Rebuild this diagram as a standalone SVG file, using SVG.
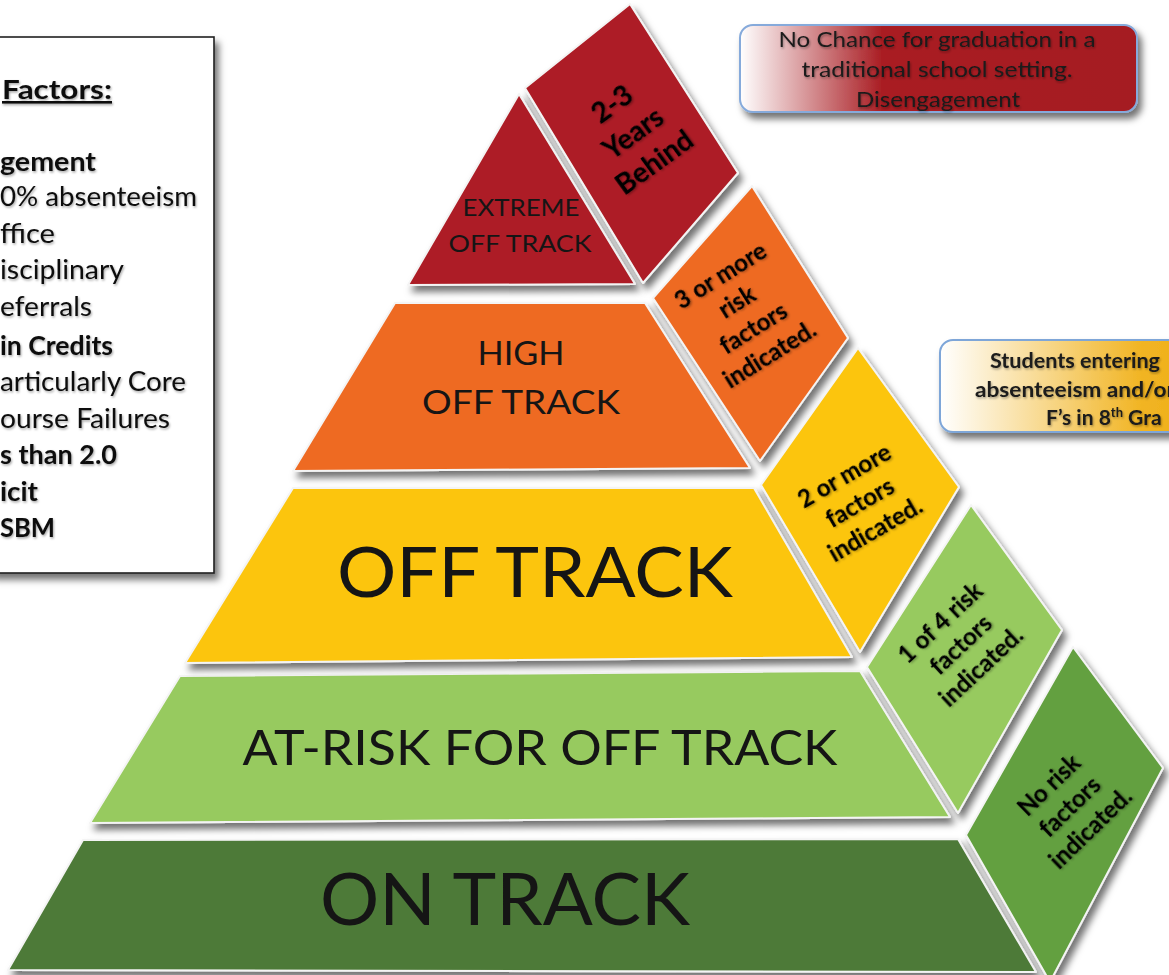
<svg xmlns="http://www.w3.org/2000/svg" width="1169" height="975" viewBox="0 0 1169 975">
<defs>
  <filter id="sh" x="-20%" y="-20%" width="140%" height="140%">
    <feDropShadow dx="4" dy="6" stdDeviation="3.5" flood-color="#000" flood-opacity="0.55"/>
  </filter>
  <filter id="tsh" x="-10%" y="-10%" width="120%" height="120%">
    <feDropShadow dx="1" dy="1.5" stdDeviation="1" flood-color="#000" flood-opacity="0.35"/>
  </filter>
  <linearGradient id="gRed" x1="0" y1="0" x2="1" y2="0">
    <stop offset="0" stop-color="#ffffff"/>
    <stop offset="0.36" stop-color="#a91c22"/>
    <stop offset="1" stop-color="#a51b21"/>
  </linearGradient>
  <linearGradient id="gGold" x1="0" y1="0" x2="1" y2="0">
    <stop offset="0" stop-color="#ffffff"/>
    <stop offset="0.75" stop-color="#f1b422"/>
    <stop offset="1" stop-color="#eeae18"/>
  </linearGradient>
  <style>
    .band { stroke: #f4f4f4; stroke-width: 2; stroke-linejoin: round; filter: url(#sh); }
    .lbl { font-family: Lato, "Open Sans", "Liberation Sans", sans-serif; fill: #151515; text-anchor: middle; }
    .tile { font-family: Lato, "Open Sans", "Liberation Sans", sans-serif; font-weight: bold; fill: #000; text-anchor: middle; filter: url(#tsh); }
    .leg { font-family: Lato, "Open Sans", "Liberation Sans", sans-serif; font-size: 26px; fill: #111; filter: url(#tsh); }
    .b { font-weight: bold; }
    .call { font-family: Lato, "Open Sans", "Liberation Sans", sans-serif; fill: #1a1a1a; filter: url(#tsh); }
    .mid { text-anchor: middle; }
    .red { fill: #ad1e25; }
    .org { fill: #ee6b23; }
    .yel { fill: #fcc510; }
    .lgr { fill: #97ca5e; }
    .dgr { fill: #4e7a38; }
    .mgr { fill: #63a03f; }
  </style>
</defs>
<rect width="1169" height="975" fill="#ffffff"/>

<g id="legend">
  <rect x="-10" y="37" width="224" height="536" fill="#ffffff" stroke="#1e1e1e" stroke-width="1.6" filter="url(#sh)"/>
  <text class="leg b" x="2" y="99" textLength="110" lengthAdjust="spacingAndGlyphs" text-decoration="underline">Factors:</text>
  <text class="leg b" x="0" y="171" textLength="96" lengthAdjust="spacingAndGlyphs">gement</text>
  <text class="leg" x="0" y="206" textLength="197" lengthAdjust="spacingAndGlyphs">0% absenteeism</text>
  <text class="leg" x="0" y="243" textLength="55" lengthAdjust="spacingAndGlyphs">ffice</text>
  <text class="leg" x="0" y="279" textLength="124" lengthAdjust="spacingAndGlyphs">isciplinary</text>
  <text class="leg" x="0" y="316" textLength="92" lengthAdjust="spacingAndGlyphs">eferrals</text>
  <text class="leg b" x="0" y="355" textLength="113" lengthAdjust="spacingAndGlyphs">in Credits</text>
  <text class="leg" x="0" y="391" textLength="186" lengthAdjust="spacingAndGlyphs">articularly Core</text>
  <text class="leg" x="0" y="428" textLength="170" lengthAdjust="spacingAndGlyphs">ourse Failures</text>
  <text class="leg b" x="0" y="464" textLength="117" lengthAdjust="spacingAndGlyphs">s than 2.0</text>
  <text class="leg b" x="0" y="501" textLength="38" lengthAdjust="spacingAndGlyphs">icit</text>
  <text class="leg b" x="0" y="537" textLength="55" lengthAdjust="spacingAndGlyphs">SBM</text>
</g>

<g id="callout-no-chance">
  <rect x="740" y="25" width="397" height="87" rx="13" fill="url(#gRed)" stroke="#86aadb" stroke-width="2" filter="url(#sh)"/>
  <text class="call mid" font-size="21" x="937" y="47" textLength="317" lengthAdjust="spacingAndGlyphs">No Chance for graduation in a</text>
  <text class="call mid" font-size="21" x="937" y="77" textLength="271" lengthAdjust="spacingAndGlyphs">traditional school setting.</text>
  <text class="call mid" font-size="21" x="938" y="107" textLength="164" lengthAdjust="spacingAndGlyphs">Disengagement</text>
</g>

<g id="callout-students">
  <rect x="940" y="340" width="270" height="92" rx="13" fill="url(#gGold)" stroke="#7ea6d8" stroke-width="2" filter="url(#sh)"/>
  <text class="call b" font-size="21" x="990" y="368" textLength="170" lengthAdjust="spacingAndGlyphs">Students entering</text>
  <text class="call b" font-size="21" x="975" y="397" textLength="200" lengthAdjust="spacingAndGlyphs">absenteeism and/or</text>
  <text class="call b" font-size="21" x="1046" y="425">F’s in 8<tspan font-size="13" dy="-8">th</tspan><tspan dy="8"> Gra</tspan></text>
</g>

<!-- front face bands -->
<g id="band-on-track">
  <polygon class="band dgr" points="83,840 958,839 1036,972 8,970"/>
  <text class="lbl" font-size="72" x="505" y="925" textLength="370" lengthAdjust="spacingAndGlyphs">ON TRACK</text>
</g>
<g id="band-at-risk">
  <polygon class="band lgr" points="180,676 860,671 950,817 90,823"/>
  <text class="lbl" font-size="48" x="540" y="765" textLength="595" lengthAdjust="spacingAndGlyphs">AT-RISK FOR OFF TRACK</text>
</g>
<g id="band-off-track">
  <polygon class="band yel" points="293,488 754,488 852,657 185,663"/>
  <text class="lbl" font-size="70" x="535" y="597" textLength="396" lengthAdjust="spacingAndGlyphs">OFF TRACK</text>
</g>
<g id="band-high">
  <polygon class="band org" points="395,303 645,303 750,468 293,471"/>
  <text class="lbl" font-size="32" x="521" y="365" textLength="87" lengthAdjust="spacingAndGlyphs">HIGH</text>
  <text class="lbl" font-size="32" x="521" y="414" textLength="198" lengthAdjust="spacingAndGlyphs">OFF TRACK</text>
</g>
<g id="band-extreme">
  <polygon class="band red" points="519,94 635,284 408,285"/>
  <text class="lbl" font-size="24" x="521" y="216" textLength="117" lengthAdjust="spacingAndGlyphs">EXTREME</text>
  <text class="lbl" font-size="24" x="520" y="252" textLength="143" lengthAdjust="spacingAndGlyphs">OFF TRACK</text>
</g>

<!-- right face tiles -->
<g id="tile-years-behind">
  <polygon class="band red" points="630,4 738,173 643,283 525,88"/>
  <text class="tile" font-size="28" transform="translate(633,133) rotate(-36)"><tspan x="0" y="-26">2-3</tspan><tspan x="0" y="10">Years</tspan><tspan x="0" y="46">Behind</tspan></text>
</g>
<g id="tile-three-or-more">
  <polygon class="band org" points="752,186 848,338 760,461 653,298"/>
  <text class="tile" font-size="24" transform="translate(745,315) rotate(-32)"><tspan x="0" y="-38">3 or more</tspan><tspan x="0" y="-7">risk</tspan><tspan x="0" y="24">factors</tspan><tspan x="0" y="55">indicated.</tspan></text>
</g>
<g id="tile-two-or-more">
  <polygon class="band yel" points="858,348 959,487 860,652 761,485"/>
  <text class="tile" font-size="24" transform="translate(860,503) rotate(-30)"><tspan x="0" y="-23">2 or more</tspan><tspan x="0" y="8">factors</tspan><tspan x="0" y="39">indicated.</tspan></text>
</g>
<g id="tile-one-of-four">
  <polygon class="band lgr" points="971,505 1062,630 958,813 867,667"/>
  <text class="tile" font-size="24" transform="translate(961,645) rotate(-43)"><tspan x="0" y="-22">1 of 4 risk</tspan><tspan x="0" y="8">factors</tspan><tspan x="0" y="38">indicated.</tspan></text>
</g>
<g id="tile-no-risk">
  <polygon class="band mgr" points="1073,647 1163,768 1050,982 966,835"/>
  <text class="tile" font-size="24" transform="translate(1070,807) rotate(-44)"><tspan x="0" y="-22">No risk</tspan><tspan x="0" y="8">factors</tspan><tspan x="0" y="38">indicated.</tspan></text>
</g>
</svg>
